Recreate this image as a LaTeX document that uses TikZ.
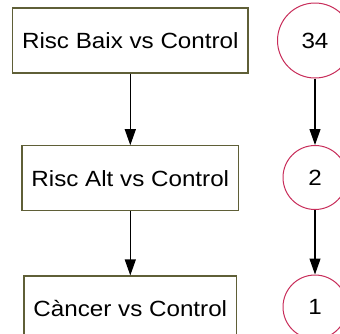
\documentclass[tikz,border=0pt]{standalone}
\usepackage{fontspec}
\newfontfamily\lblfont[FakeStretch=1.1]{Liberation Sans}
\usetikzlibrary{arrows.meta,shapes,positioning,calc}
\definecolor{boxedge}{RGB}{95,95,55}
\definecolor{ringedge}{RGB}{200,45,90}
\tikzset{
    cmp/.style={
        rectangle,
        draw=boxedge,
        line width=1.2pt,
        fill=white,
        inner xsep=9.5pt,
        minimum height=65pt,
        font=\lblfont\fontsize{22}{26}\selectfont,
    },
    cnt/.style={
        circle,
        draw=ringedge,
        line width=1pt,
        fill=white,
        minimum size=64pt,
        font=\lblfont\fontsize{22}{26}\selectfont,
    },
    every edge/.style={
        draw,
        -{Triangle[length=16pt,width=11pt]},
        line width=1.2pt,
    },
}
\begin{document}
\begin{tikzpicture}[x=1pt,y=1pt]
    \useasboundingbox (0,0) rectangle (340,-333);
                \node [cmp] (Baix) at (130.3,-40.5) {Risc Baix vs Control};
                \node [cmp, below=71.6pt of Baix] (Alt) {Risc Alt vs Control};
                \node [cmp, below=64pt of Alt] (Cancer) {Càncer vs Control};

                \node [cnt, minimum size=75pt] (N34) at (315,-40.5) {34};
                \node [cnt, below=66.5pt of N34] (N2) {2};
                \node [cnt, below=64.5pt of N2] (N1) {1};

                \draw (Baix) edge (Alt);
                \draw (Alt) edge (Cancer);
                \draw (N34) edge (N2);
                \draw (N2) edge (N1);
            \end{tikzpicture}
\end{document}
